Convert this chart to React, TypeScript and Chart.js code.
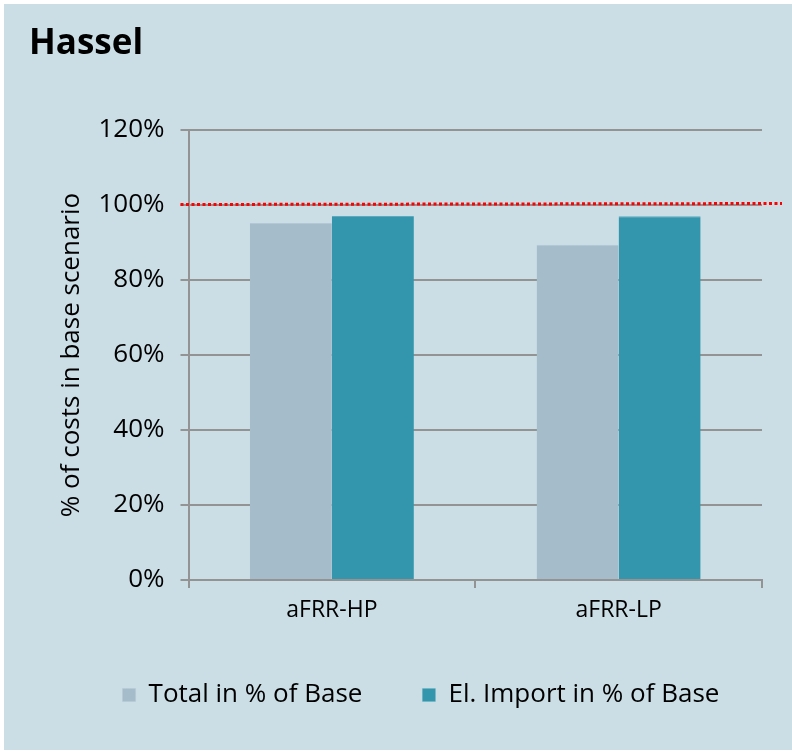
import React, { useEffect, useRef } from "react";
import { Chart, registerables } from "chart.js";

Chart.register(...registerables);

const TITLE = "Hassel";
const CATEGORIES = ["aFRR-HP", "aFRR-LP"];
const TOTAL_LABEL = "Total in % of Base";
const TOTAL_VALUES = [95.2, 89.4];
const IMPORT_LABEL = "El. Import in % of Base";
const IMPORT_VALUES = [97.1, 97.0];
const REFERENCE_VALUE = 100;
const Y_TICKS = [0, 20, 40, 60, 80, 100, 120];
const Y_TITLE = "% of costs in base scenario";

const FONT = "'Open Sans', 'Noto Sans', sans-serif";
const BG = "#CBDEE5";
const GRID = "#939393";

const panelPlugin = {
  id: "panel",
  beforeDraw(chart: any) {
    const ctx = chart.ctx;
    ctx.save();
    ctx.fillStyle = "#FFFFFF";
    ctx.fillRect(0, 0, chart.width, chart.height);
    ctx.fillStyle = BG;
    ctx.fillRect(4, 4, chart.width - 4, chart.height - 5);
    ctx.fillStyle = "#000000";
    ctx.font = `bold 35px ${FONT}`;
    ctx.textBaseline = "alphabetic";
    ctx.textAlign = "left";
    ctx.fillText(TITLE, 29, 54);
    ctx.restore();
  },
};

const legendShiftPlugin = {
  id: "legendShift",
  afterLayout(chart: any) {
    if (chart.legend) {
      chart.legend.left += 38;
      chart.legend.right += 38;
    }
  },
};

const refLinePlugin = {
  id: "refLine",
  afterDatasetsDraw(chart: any) {
    const y = chart.scales.y.getPixelForValue(REFERENCE_VALUE);
    const ctx = chart.ctx;
    ctx.save();
    ctx.strokeStyle = "#FF0000";
    ctx.lineWidth = 3;
    ctx.setLineDash([3, 2.5]);
    ctx.beginPath();
    ctx.moveTo(chart.chartArea.left - 8, y - 0.5);
    ctx.lineTo(chart.chartArea.right + 20, y - 1.5);
    ctx.stroke();
    ctx.restore();
  },
};

export default function App() {
  const ref = useRef<HTMLCanvasElement | null>(null);

  useEffect(() => {
    if (!ref.current) return;
    const chart = new Chart(ref.current, {
      type: "bar",
      data: {
        labels: CATEGORIES,
        datasets: [
          {
            label: TOTAL_LABEL,
            data: TOTAL_VALUES,
            backgroundColor: "#A5BCCA",
            borderColor: "#B3C8D4",
            borderWidth: { top: 1, left: 0, right: 0, bottom: 0 },
            categoryPercentage: 0.572,
            barPercentage: 1,
          },
          {
            label: IMPORT_LABEL,
            data: IMPORT_VALUES,
            backgroundColor: "#3396AD",
            borderColor: "#5EA9BC",
            borderWidth: { top: 1, left: 0, right: 0, bottom: 0 },
            categoryPercentage: 0.572,
            barPercentage: 1,
          },
        ],
      },
      options: {
        responsive: false,
        animation: false,
        devicePixelRatio: 1,
        layout: { padding: { top: 130, right: 30, left: 4, bottom: 33 } },
        plugins: {
          title: { display: false },
          tooltip: { enabled: false },
          legend: {
            display: true,
            position: "bottom",
            labels: {
              boxWidth: 13,
              boxHeight: 13,
              padding: 60,
              color: "#000000",
              font: { family: FONT, size: 26 },
            },
          },
        },
        scales: {
          x: {
            grid: {
              offset: true,
              drawOnChartArea: false,
              drawTicks: true,
              tickLength: 8,
              color: GRID,
              lineWidth: 2,
            },
            border: { display: true, color: GRID, width: 2 },
            ticks: {
              color: "#000000",
              padding: 9,
              font: { family: FONT, size: 23 },
            },
            afterFit(scale: any) {
              scale.height = 42;
            },
          },
          y: {
            min: 0,
            max: 120,
            afterBuildTicks(scale: any) {
              scale.ticks = Y_TICKS.map((v) => ({ value: v }));
            },
            grid: {
              color: GRID,
              lineWidth: 2,
              tickLength: 8,
            },
            border: { display: true, color: GRID, width: 2 },
            ticks: {
              color: "#000000",
              padding: 16,
              font: { family: FONT, size: 26 },
              callback: (v: any) => `${v}%`,
            },
            title: {
              display: true,
              text: Y_TITLE,
              color: "#000000",
              font: { family: FONT, size: 26 },
              padding: { top: 52, bottom: 0 },
            },
            afterFit(scale: any) {
              scale.width = 184.5;
            },
          },
        },
      },
      plugins: [panelPlugin, legendShiftPlugin, refLinePlugin],
    });
    return () => chart.destroy();
  }, []);

  return (
    <div style={{ position: "fixed", left: 0, top: 0, width: 792, height: 751 }}>
      <canvas ref={ref} width={792} height={751} style={{ display: "block" }} />
    </div>
  );
}
